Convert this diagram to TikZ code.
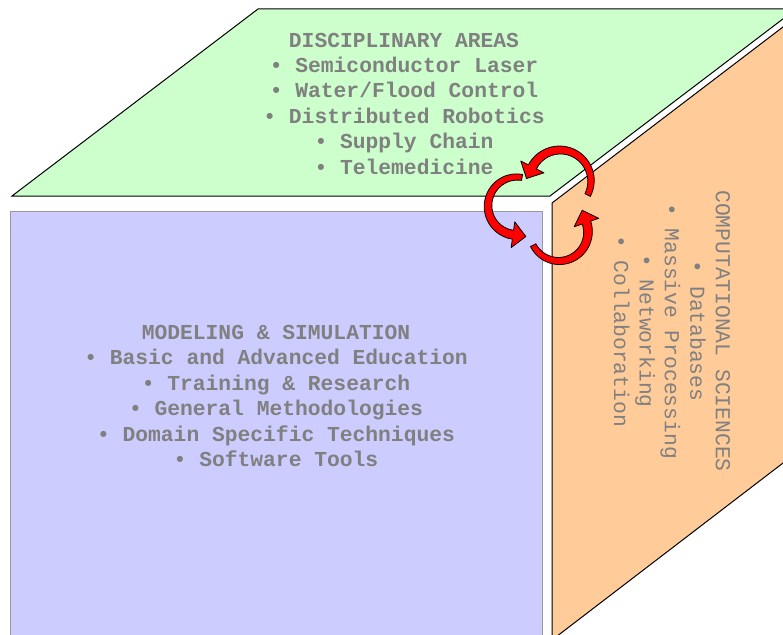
\documentclass[tikz,border=0pt]{standalone}
\usepackage{fontspec}
\setmonofont{Liberation Mono}
\definecolor{topface}{HTML}{CCFFCC}
\definecolor{frontface}{HTML}{CCCCFF}
\definecolor{sideface}{HTML}{FFCC99}
\definecolor{facetext}{HTML}{808080}
\begin{document}
\begin{tikzpicture}[x=1pt,y=-1pt,
    facelabel/.style={align=center,text=facetext,font=\fontsize{21.3}{25.4}\selectfont\ttfamily\bfseries},
    sidelabel/.style={facelabel,font=\fontsize{21.3}{25.4}\selectfont\ttfamily\mdseries,rotate=-90},
    swirl/.style={fill=red,draw=black,line width=0.8pt,line join=round}]
  \useasboundingbox (0,0) rectangle (783,634);
  \clip (0,0) rectangle (783,634);
  % --- the three faces of the cube ---
  \draw[fill=topface,line width=1pt] (12,196) -- (258,9) -- (796,9) -- (550,196) -- cycle;
  \draw[fill=frontface,draw=gray!80,line width=1pt] (10,211) rectangle (542,640);
  \draw[fill=sideface,line width=1pt] (552,203) -- (800,14) -- (800,450) -- (552,640) -- cycle;
  % --- face texts ---
  \node[facelabel] (areas) at (404,103.5) {DISCIPLINARY AREAS\\
    • Semiconductor Laser\\ • Water/Flood Control\\ • Distributed Robotics\\
    • Supply Chain\\ • Telemedicine};
  \node[facelabel] (modsim) at (276,396) {MODELING \& SIMULATION\\
    • Basic and Advanced Education\\ • Training \& Research\\
    • General Methodologies\\ • Domain Specific Techniques\\ • Software Tools};
  \node[sidelabel] (compsci) at (672,331) {COMPUTATIONAL SCIENCES\\
    • Databases\\ • Massive Processing\\ • Networking\\ • Collaboration};
  % --- curled arrows round the corner: centre, radius, tail angle, head angle ---
  \foreach \cx/\cy/\rad/\ta/\tb in {560/181/31/27/-153, 517/206/29/-80/-262, 559/232/29/153/-19}
    \filldraw[swirl]
      plot[domain=\ta:\tb,samples=30]
        ({\cx+(\rad+3+1.5*(\x-(\ta))/((\tb)-(\ta)))*cos(\x)},{\cy+(\rad+3+1.5*(\x-(\ta))/((\tb)-(\ta)))*sin(\x)})
      -- ({\cx+(\rad+13)*cos(\tb)},{\cy+(\rad+13)*sin(\tb)})
      -- ({\cx+\rad*cos(\tb)+13*sin(\tb)},{\cy+\rad*sin(\tb)-13*cos(\tb)})
      -- ({\cx+(\rad-13)*cos(\tb)},{\cy+(\rad-13)*sin(\tb)})
      -- plot[domain=\tb:\ta,samples=30]
        ({\cx+(\rad-3-1.5*(\x-(\ta))/((\tb)-(\ta)))*cos(\x)},{\cy+(\rad-3-1.5*(\x-(\ta))/((\tb)-(\ta)))*sin(\x)})
      -- cycle;
\end{tikzpicture}
\end{document}
